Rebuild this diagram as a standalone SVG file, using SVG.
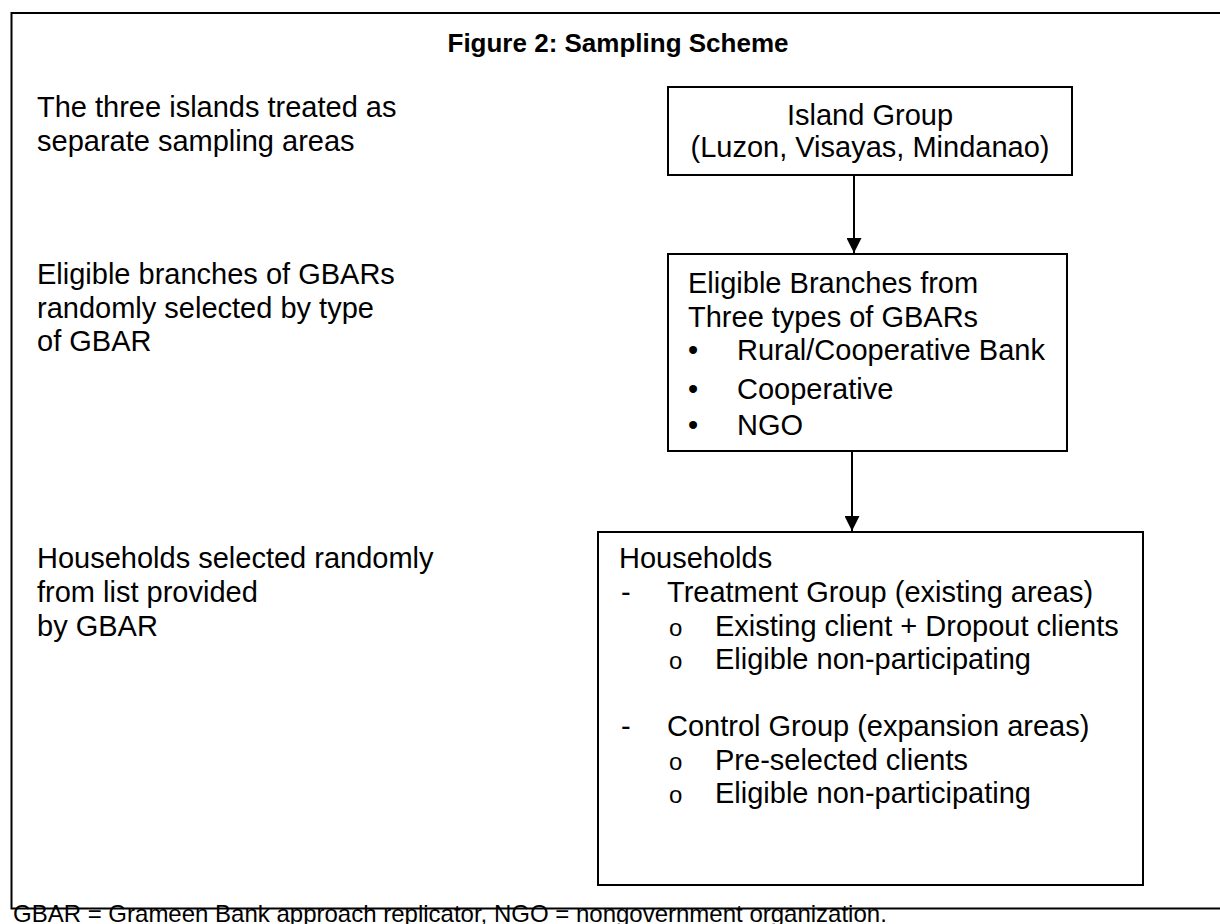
<svg xmlns="http://www.w3.org/2000/svg" width="1220" height="924" viewBox="0 0 1220 924">
<defs>
<style>
.t{font-family:"Liberation Sans",Arial,sans-serif;font-size:29px;fill:#000}
.title{font-family:"Liberation Sans",Arial,sans-serif;font-size:26px;font-weight:bold;fill:#000}
.foot{font-family:"Liberation Sans",Arial,sans-serif;font-size:24px;fill:#000}
.sm{font-family:"Liberation Sans",Arial,sans-serif;font-size:24px;fill:#000}
.box{fill:#fff;stroke:#000;stroke-width:2}
.frame{fill:none;stroke:#000;stroke-width:2}
.edge{stroke:#000;stroke-width:2;fill:none}
</style>
<marker id="arr" viewBox="0 0 15 15" refX="15" refY="7.5" markerWidth="15" markerHeight="15" markerUnits="userSpaceOnUse" orient="auto">
<path d="M0,0 L15,7.5 L0,15 Z" fill="#000"/>
</marker>
</defs>
<rect width="1220" height="924" fill="#fff"/>
<path class="frame" d="M1222,13 H11.5 V908.5 H1222"/>
<text class="title" x="618" y="52" text-anchor="middle">Figure 2: Sampling Scheme</text>
<g id="left-labels">
<text class="t" x="37" y="117">The three islands treated as</text>
<text class="t" x="37" y="151">separate sampling areas</text>
<text class="t" x="37" y="284">Eligible branches of GBARs</text>
<text class="t" x="37" y="318">randomly selected by type</text>
<text class="t" x="37" y="351">of GBAR</text>
<text class="t" x="37" y="568">Households selected randomly</text>
<text class="t" x="37" y="602">from list provided</text>
<text class="t" x="37" y="636">by GBAR</text>
</g>
<g id="connectors">
<line class="edge" x1="854" y1="175" x2="854" y2="253" marker-end="url(#arr)"/>
<line class="edge" x1="852" y1="451" x2="852" y2="531" marker-end="url(#arr)"/>
</g>
<g id="node-island">
<rect class="box" x="668" y="87" width="404" height="88"/>
<text class="t" x="870" y="125" text-anchor="middle">Island Group</text>
<text class="t" x="870" y="157" text-anchor="middle">(Luzon, Visayas, Mindanao)</text>
</g>
<g id="node-branches">
<rect class="box" x="668" y="254" width="399" height="197"/>
<text class="t" x="688" y="293">Eligible Branches from</text>
<text class="t" x="688" y="327">Three types of GBARs</text>
<text class="t" x="688" y="360">•</text><text class="t" x="737" y="360">Rural/Cooperative Bank</text>
<text class="t" x="688" y="399">•</text><text class="t" x="737" y="399">Cooperative</text>
<text class="t" x="688" y="435">•</text><text class="t" x="737" y="435">NGO</text>
</g>
<g id="node-households">
<rect class="box" x="598" y="532" width="545" height="353"/>
<text class="t" x="619" y="568">Households</text>
<text class="t" x="621" y="602">-</text><text class="t" x="667" y="602">Treatment Group (existing areas)</text>
<text class="sm" x="669" y="636">o</text><text class="t" x="715" y="636">Existing client + Dropout clients</text>
<text class="sm" x="669" y="669">o</text><text class="t" x="715" y="669">Eligible non-participating</text>
<text class="t" x="621" y="736">-</text><text class="t" x="667" y="736">Control Group (expansion areas)</text>
<text class="sm" x="669" y="770">o</text><text class="t" x="715" y="770">Pre-selected clients</text>
<text class="sm" x="669" y="803">o</text><text class="t" x="715" y="803">Eligible non-participating</text>
</g>
<text class="foot" x="13" y="922">GBAR = Grameen Bank approach replicator, NGO = nongovernment organization.</text>
</svg>
